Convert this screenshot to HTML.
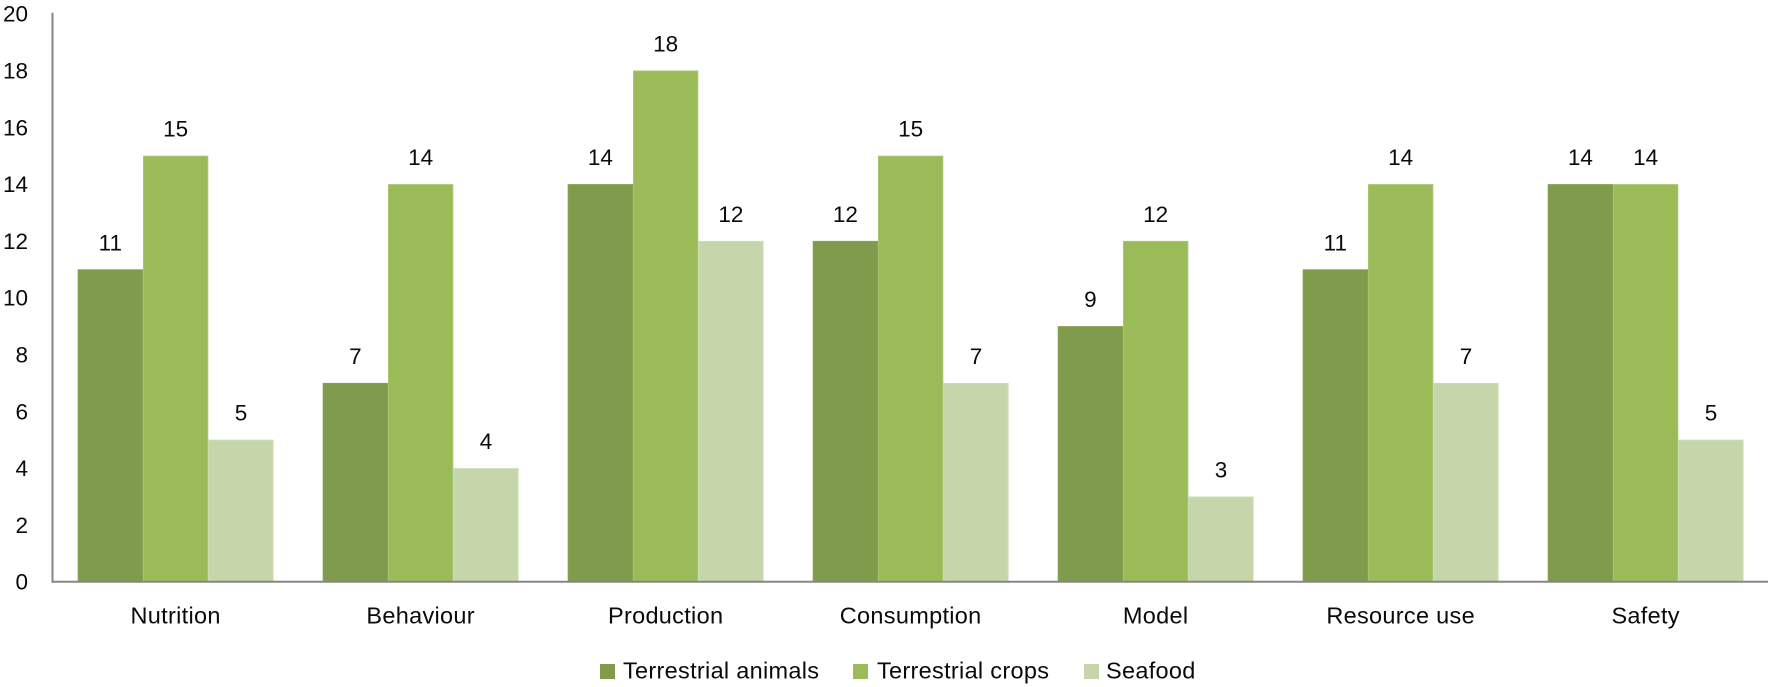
<!DOCTYPE html>
<html lang="en">
<head>
<meta charset="utf-8">
<title>Bar chart by topic</title>
<style>
html,body{margin:0;padding:0;background:#fff;}
body{width:1772px;height:687px;overflow:hidden;}
svg{display:block;}
text{font-family:"Liberation Sans",sans-serif;font-size:22.5px;fill:#0a0a0a;}
text.word{font-size:23.5px;letter-spacing:0.3px;}
</style>
</head>
<body>
<svg id="chart" xmlns="http://www.w3.org/2000/svg" width="1772" height="687" viewBox="0 0 1772 687"></svg>
<script>
const categories = ["Nutrition", "Behaviour", "Production", "Consumption", "Model", "Resource use", "Safety"];
const terrestrialAnimals = [11, 7, 14, 12, 9, 11, 14];
const terrestrialCrops = [15, 14, 18, 15, 12, 14, 14];
const seafood = [5, 4, 12, 7, 3, 7, 5];
const yTicks = [0, 2, 4, 6, 8, 10, 12, 14, 16, 18, 20];
const seriesNames = ["Terrestrial animals", "Terrestrial crops", "Seafood"];

const svg = document.getElementById('chart');
const NS = 'http://www.w3.org/2000/svg';
const seriesValues = [terrestrialAnimals, terrestrialCrops, seafood];
const seriesColors = ['#7f9b4b', '#9bbb59', '#c6d6ab'];
const seriesStrokes = ['#86a250', '#a8c670', '#cddcb4'];
const seriesKeys = ['terrestrial-animals', 'terrestrial-crops', 'seafood'];

const plotLeft = 52.5, plotRight = 1768, plotBottom = 581.7, plotTop = 13.7;
const firstBarX = 77.7, groupPitch = 245, barWidth = 65.3;
const yMax = yTicks[yTicks.length - 1];

function yScale(v) {
  return plotBottom - (v / yMax) * (plotBottom - plotTop);
}
function groupX(i) {
  return firstBarX + i * groupPitch;
}
function barX(i, s) {
  return groupX(i) + s * barWidth;
}
function make(tag, attrs, text) {
  const el = document.createElementNS(NS, tag);
  for (const k in attrs) el.setAttribute(k, attrs[k]);
  if (text !== undefined) el.textContent = text;
  svg.appendChild(el);
  return el;
}
function slug(s) {
  return s.toLowerCase().replace(/\s+/g, '-');
}

// bars and value labels
categories.forEach(function (cat, i) {
  seriesValues.forEach(function (vals, s) {
    const v = vals[i];
    const top = yScale(v);
    const bar = make('rect', {
      x: barX(i, s) + 0.5,
      y: top + 0.5,
      width: barWidth - 1,
      height: plotBottom - top - 0.5,
      fill: seriesColors[s],
      stroke: seriesStrokes[s],
      'stroke-width': 1
    });
    
    

    const lab = make('text', {
      x: barX(i, s) + barWidth / 2,
      y: top - 19,
      'text-anchor': 'middle'
    }, String(v));
    
    
  });

  const catLabel = make('text', {
    x: groupX(i) + barWidth * 1.5,
    y: 623.3,
    'text-anchor': 'middle',
    'class': 'word'
  }, cat);
  
  
});

// axes
const yAxis = make('line', {x1: plotLeft, y1: plotTop - 1, x2: plotLeft, y2: plotBottom + 1, stroke: '#868686', 'stroke-width': 2});



const xAxis = make('line', {x1: plotLeft - 1, y1: plotBottom, x2: plotRight, y2: plotBottom, stroke: '#868686', 'stroke-width': 2});



yTicks.forEach(function (t) {
  const tick = make('text', {x: 28, y: yScale(t) + 8, 'text-anchor': 'end'}, String(t));
  
  
});

// legend
const legendSwatchX = [600, 853, 1084];
const legendTextX = [623, 877, 1106];
seriesNames.forEach(function (name, s) {
  const sw = make('rect', {x: legendSwatchX[s], y: 664, width: 15, height: 15, fill: seriesColors[s]});
  
  

  const tx = make('text', {x: legendTextX[s], y: 678.5, 'class': 'word'}, name);
  
  
});
</script>
</body>
</html>
